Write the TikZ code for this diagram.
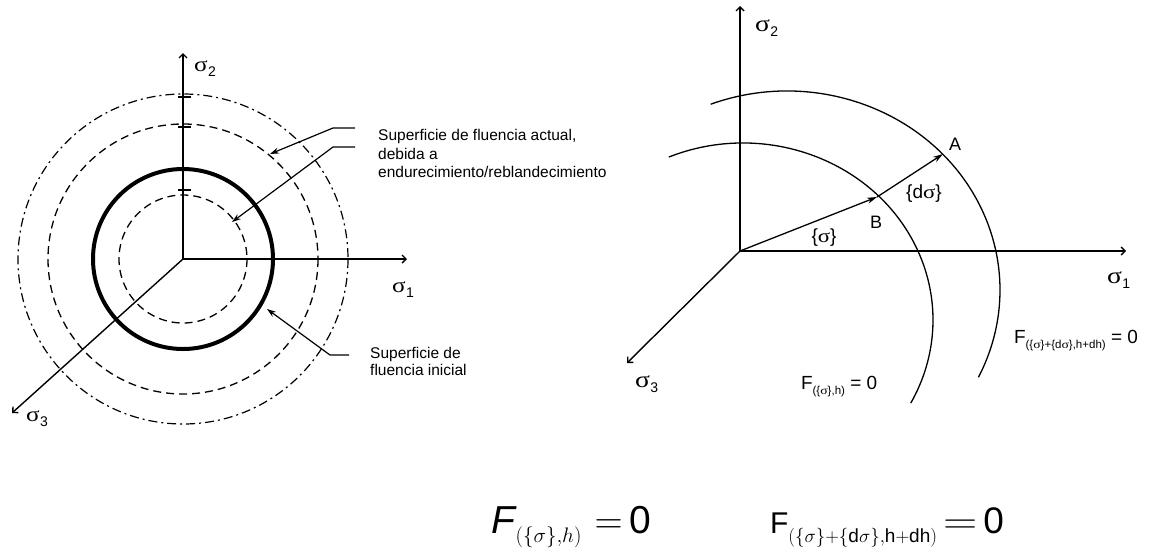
\RequirePackage{fix-cm}
\documentclass[tikz,border=0pt]{standalone}
\usepackage{fontspec}
\setmainfont{Liberation Sans}
\newfontfamily\sgfont{Liberation Serif}
\usepackage{graphicx}
\usetikzlibrary{arrows.meta}
\newcommand\fsz[1]{\fontsize{#1}{#1}\selectfont}
\newcommand\sg{\scalebox{1.2}[1]{\sgfont σ}}
\newcommand\sgsub[2]{{\fsz{#1}\sg}\kern0.5pt\raisebox{-5pt}{\fsz{14}#2}}
\begin{document}
\begin{tikzpicture}[x=1pt,y=-1pt,
  axis/.style={line width=1.4pt,-{Straight Barb[length=4pt,width=8pt]}},
  thickcirc/.style={line width=4pt},
  dashcirc/.style={line width=1.3pt,dash pattern=on 8pt off 5pt},
  dotcirc/.style={line width=1.2pt,dash pattern=on 9pt off 4pt on 2pt off 4pt},
  tickmark/.style={line width=1.2pt},
  leader/.style={line width=1.2pt,-{Stealth[length=9pt,width=6pt]}},
  vect/.style={line width=1.3pt,-{Stealth[length=10pt,width=6pt]}},
  curve/.style={line width=1.3pt},
  lab/.style={inner sep=0pt,outer sep=0pt},
  note/.style={inner sep=0pt,anchor=base west,font=\fsz{15.5}}
]
\useasboundingbox (0,0) rectangle (1151,550);
\fill[white] (0,0) rectangle (1151,550);

% ---------------- left diagram ----------------
\coordinate (L0) at (183,259);
\coordinate (L1) at (407,259);
\coordinate (L2) at (183,53);
\coordinate (L3) at (12,413);
\draw[dashcirc] (L0) circle[radius=64];
\draw[thickcirc] (L0) circle[radius=90];
\draw[dashcirc] (L0) circle[radius=135];
\draw[dotcirc] (L0) circle[radius=165];
\draw[axis] (L0) -- (L1);
\draw[axis] (L0) -- (L2);
\draw[axis] (L0) -- (L3);
\draw[tickmark] (178,97) -- (191,97);
\draw[tickmark] (178,127) -- (191,127);
\draw[tickmark] (178,190) -- (191,190);

\node[lab,anchor=base west] (s2L) at (194,71) {\sgsub{21}{2}};
\node[lab,anchor=base west] (s1L) at (392,292) {\sgsub{21}{1}};
\node[lab,anchor=base west] (s3L) at (26,421) {\sgsub{21}{3}};

\coordinate (la1) at (355,128);
\coordinate (lb1) at (333,128);
\coordinate (lc1) at (270,154);
\coordinate (la2) at (355,147);
\coordinate (lb2) at (333,147);
\coordinate (lc2) at (232,222);
\coordinate (la3) at (349,355);
\coordinate (lb3) at (330,355);
\coordinate (lc3) at (267,309);
\draw[leader] (la1) -- (lb1) -- (lc1);
\draw[leader] (la2) -- (lb2) -- (lc2);
\draw[leader] (la3) -- (lb3) -- (lc3);

\node[note] (t1) at (378,140.7) {Superficie de fluencia actual,};
\node[note] (t2) at (378,159.3) {debida a};
\node[note] (t3) at (378,177.7) {endurecimiento/reblandecimiento};
\node[note] (t4) at (370,358) {Superficie de};
\node[note] (t5) at (370,375.5) {fluencia inicial};

% ---------------- right diagram ----------------
\coordinate (R0) at (740,251);
\coordinate (R1) at (1126,251);
\coordinate (R2) at (740,6);
\coordinate (R3) at (627,363);
\coordinate (B) at (877,197);
\coordinate (A) at (943,154);
\draw[axis] (R0) -- (R1);
\draw[axis] (R0) -- (R2);
\draw[axis] (R0) -- (R3);
\draw[curve] (743,320) ++(-113:190 and 177) arc[start angle=-113,end angle=28,x radius=190,y radius=177];
\draw[curve] (787,290) ++(-111:213 and 199) arc[start angle=-111,end angle=26,x radius=213,y radius=199];
\draw[vect] (R0) -- (B);
\draw[vect] (B) -- (A);

\node[lab,anchor=base west] (s2R) at (755,31) {\sgsub{23}{2}};
\node[lab,anchor=base west] (s1R) at (1107,283) {\sgsub{23}{1}};
\node[lab,anchor=base west] (s3R) at (635,387) {\sgsub{23}{3}};
\node[lab,font=\fsz{18}] (labA) at (955,144) {A};
\node[lab,font=\fsz{18}] (labB) at (876,222) {B};
\node[lab,font=\fsz{19}] (labs) at (824,238) {\{\sg\}};
\node[lab,font=\fsz{19}] (labds) at (924,194) {\{d\sg\}};
\node[lab,anchor=base west] (Fr) at (1014,343)
  {\fsz{19}F\raisebox{-5pt}{\fsz{11.5}(\{\sg\}+\{d\sg\},h+dh)}\fsz{19} = 0};
\node[lab,anchor=base west] (Fl) at (801,389)
  {\fsz{19}F\raisebox{-5pt}{\fsz{11.5}(\{\sg\},h)}\fsz{19} = 0};

% ---------------- bottom formulas ----------------
\node[lab,anchor=base west] (eq1) at (491,533)
  {\fsz{39}\textit{F}\kern-1pt\raisebox{-9pt}{\fsz{21}$(\{\sigma\}{,}h)$}\kern13pt$=$\kern7pt 0};
\node[lab,anchor=base west] (eq2) at (770,533)
  {\fsz{30}F\raisebox{-9pt}{\fsz{19}$(\{\sigma\}{+}\{\mbox{d}\sigma\}{,}\mbox{h}{+}\mbox{dh})$}\kern6pt\fsz{38}\scalebox{1.25}[1]{$=$}\kern6pt{\fsz{37}0}};
\end{tikzpicture}
\end{document}
